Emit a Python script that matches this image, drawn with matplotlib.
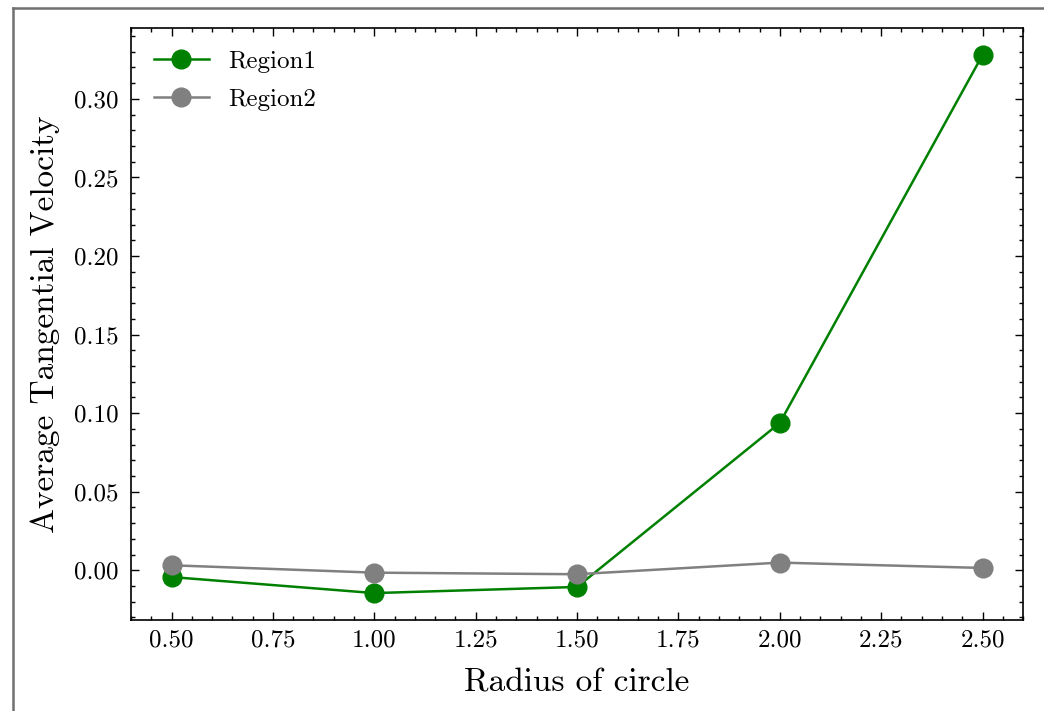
import matplotlib
matplotlib.use("Agg")
import matplotlib.pyplot as plt
from matplotlib.lines import Line2D
from matplotlib.ticker import MultipleLocator

# ---- data ----
radius = [0.5, 1.0, 1.5, 2.0, 2.5]
region1 = [-0.0043, -0.0145, -0.0106, 0.0938, 0.328]
region2 = [0.0032, -0.0015, -0.0025, 0.0049, 0.0015]

plt.rcParams['font.family'] = 'cmr10'
plt.rcParams['axes.formatter.use_mathtext'] = True
plt.rcParams['mathtext.fontset'] = 'cm'

fig = plt.figure(figsize=(10.44, 7.11), dpi=100)
ax = fig.add_axes([0.1255, 0.128, 0.8545, 0.8326])

ax.plot(radius, region1, '-o', color='green', lw=1.8, ms=13.5, label='Region1')
ax.plot(radius, region2, '-o', color='gray', lw=1.8, ms=13.5, label='Region2')

ax.set_xlabel('Radius of circle', fontsize=24, labelpad=12)
ax.set_ylabel('Average Tangential Velocity', fontsize=24, labelpad=10)

ax.xaxis.set_major_locator(MultipleLocator(0.25))
ax.xaxis.set_minor_locator(MultipleLocator(0.05))
ax.yaxis.set_major_locator(MultipleLocator(0.05))
ax.yaxis.set_minor_locator(MultipleLocator(0.01))
ax.xaxis.set_major_formatter(lambda v, p: f'{v:.2f}')
ax.yaxis.set_major_formatter(lambda v, p: f'{v:.2f}')

ax.tick_params(which='both', direction='in', top=True, right=True, labelsize=18)
ax.tick_params(axis='y', which='major', pad=9)
ax.tick_params(axis='x', which='major', pad=7)
ax.tick_params(which='major', length=6, width=1)
ax.tick_params(which='minor', length=3, width=1)
for s in ax.spines.values():
    s.set_linewidth(1.2)

ax.legend(loc='upper left', frameon=False, fontsize=18, handlelength=2.2,
          borderaxespad=0.5, labelspacing=0.6)

# frame of the screenshot (top and left edges)
fig.add_artist(Line2D([13/1044, 1], [1 - 8/711, 1 - 8/711], color='#707070', lw=1.8))
fig.add_artist(Line2D([13/1044, 13/1044], [0, 1 - 8/711], color='#707070', lw=1.8))

fig.savefig('out.png', dpi=100)
